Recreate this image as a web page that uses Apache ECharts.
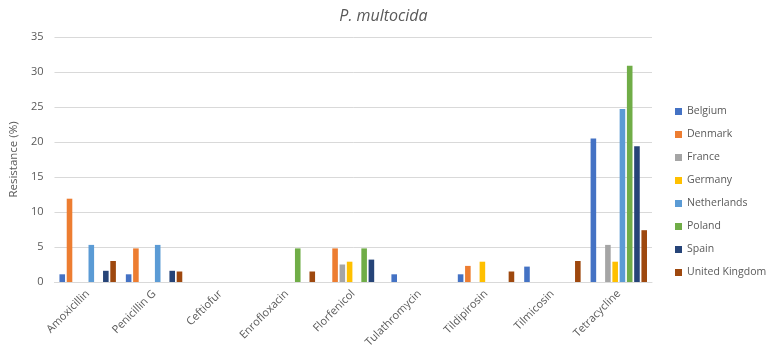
<!DOCTYPE html>
<html>
<head>
<meta charset="utf-8">
<script src="https://cdn.jsdelivr.net/npm/echarts@6/dist/echarts.min.js"></script>
<style>
  html, body { margin: 0; padding: 0; background: #fff; }
  #chart { width: 767px; height: 352px; }
</style>
</head>
<body>
<div id="chart"></div>
<script>
  var categories = ['Amoxicillin', 'Penicillin G', 'Ceftiofur', 'Enrofloxacin', 'Florfenicol', 'Tulathromycin', 'Tildipirosin', 'Tilmicosin', 'Tetracycline'];
  var yTicks = [0, 5, 10, 15, 20, 25, 30, 35];

  var belgium     = [1.1, 1.1, 0, 0, 0, 1.1, 1.1, 2.2, 20.5];
  var denmark     = [11.9, 4.8, 0, 0, 4.8, 0, 2.3, 0, 0];
  var france      = [0, 0, 0, 0, 2.5, 0, 0, 0, 5.3];
  var germany     = [0, 0, 0, 0, 2.9, 0, 2.9, 0, 2.9];
  var netherlands = [5.3, 5.3, 0, 0, 0, 0, 0, 0, 24.7];
  var poland      = [0, 0, 0, 4.8, 4.8, 0, 0, 0, 30.9];
  var spain       = [1.6, 1.6, 0, 0, 3.2, 0, 0, 0, 19.4];
  var uk          = [3.0, 1.5, 0, 1.5, 0, 0, 1.5, 3.0, 7.4];

  var countries = ['Belgium', 'Denmark', 'France', 'Germany', 'Netherlands', 'Poland', 'Spain', 'United Kingdom'];
  var values = [belgium, denmark, france, germany, netherlands, poland, spain, uk];
  var colors = ['#4472C4', '#ED7D31', '#A5A5A5', '#FFC000', '#5B9BD5', '#70AD47', '#264478', '#9E480E'];

  var font = 'Open Sans';
  var textColor = '#595959';

  var series = countries.map(function (name, i) {
    return {
      name: name,
      type: 'bar',
      data: values[i],
      itemStyle: { color: colors[i] },
      barGap: '30%',
      barCategoryGap: '15%'
    };
  });

  var myChart = echarts.init(document.getElementById('chart'));
  myChart.setOption({
    animation: false,
    textStyle: { fontFamily: font },
    title: {
      text: 'P. multocida',
      left: 'center',
      top: 3,
      textStyle: { fontFamily: font, fontStyle: 'italic', fontWeight: 'normal', fontSize: 16, color: textColor }
    },
    legend: {
      orient: 'vertical',
      left: 670,
      top: 101,
      icon: 'rect',
      itemWidth: 7,
      itemHeight: 7,
      itemGap: 12,
      data: countries,
      textStyle: { fontFamily: font, fontSize: 10.5, color: textColor }
    },
    grid: { left: 44, right: 115, top: 37, bottom: 70 },
    xAxis: {
      type: 'category',
      data: categories,
      axisLine: { lineStyle: { color: '#d9d9d9' } },
      axisTick: { show: false },
      axisLabel: { rotate: 45, margin: 10, fontSize: 11, color: textColor, fontFamily: font, interval: 0 }
    },
    yAxis: {
      type: 'value',
      min: yTicks[0],
      max: yTicks[yTicks.length - 1],
      interval: 5,
      name: 'Resistance (%)',
      nameLocation: 'middle',
      nameGap: 28,
      nameTextStyle: { fontSize: 11.5, color: textColor, fontFamily: font },
      axisLine: { show: false },
      axisTick: { show: false },
      splitLine: { lineStyle: { color: '#d9d9d9' } },
      axisLabel: { fontSize: 11, color: textColor, fontFamily: font, margin: 11 }
    },
    series: series
  });
</script>
</body>
</html>
